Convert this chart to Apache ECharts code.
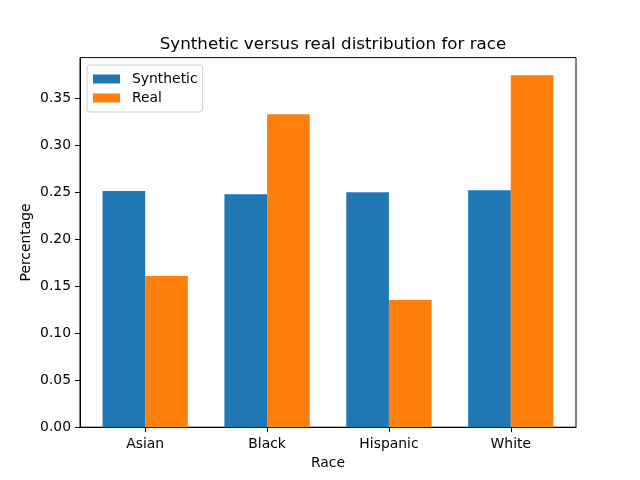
<!DOCTYPE html>
<html>
<head>
<meta charset="utf-8">
<script src="https://cdn.jsdelivr.net/npm/echarts@6/dist/echarts.min.js"></script>
<style>html,body{margin:0;padding:0;background:#fff;}#c{width:640px;height:480px;}</style>
</head>
<body>
<div id="c"></div>
<script>
const categories = ['Asian', 'Black', 'Hispanic', 'White'];
const synthetic = [0.2513, 0.2481, 0.2502, 0.2523];
const real = [0.1609, 0.3332, 0.1353, 0.3747];
const yTicks = [0, 0.05, 0.10, 0.15, 0.20, 0.25, 0.30, 0.35];

const chart = echarts.init(document.getElementById('c'), null, {renderer: 'canvas'});
const font = 'DejaVu Sans';
const barW = 0.35;
const xMin = -barW - 0.185, xMax = 3 + barW + 0.185;
const pxPerUnit = 496 / (xMax - xMin);

chart.setOption({
  animation: false,
  backgroundColor: '#fff',
  textStyle: {fontFamily: font},
  title: {
    text: 'Synthetic versus real distribution for race',
    left: 328, top: 31, textAlign: 'center',
    textStyle: {fontFamily: font, fontSize: 16.7, fontWeight: 'normal', color: '#000'}
  },
  legend: {
    orient: 'vertical', left: 87, top: 65,
    padding: [7, 5, 7, 6],
    itemWidth: 27, itemHeight: 9, itemGap: 5,
    borderColor: '#cccccc', borderWidth: 1, borderRadius: 3,
    backgroundColor: 'rgba(255,255,255,0.8)',
    textStyle: {fontFamily: font, fontSize: 13.9, color: '#000', padding: [0, 0, 0, 7]},
    data: [{name: 'Synthetic', icon: 'rect'}, {name: 'Real', icon: 'rect'}]
  },
  grid: {
    left: 80, right: 64, top: 57.6, bottom: 52.8,
    show: true, borderColor: '#000', borderWidth: 1, backgroundColor: 'transparent'
  },
  xAxis: {
    type: 'value', min: xMin, max: xMax,
    name: 'Race', nameLocation: 'middle', nameGap: 29, nameMoveOverlap: false,
    nameTextStyle: {fontFamily: font, fontSize: 13.9, color: '#000'},
    axisLine: {show: true, onZero: false, lineStyle: {color: '#000', width: 1}},
    splitLine: {show: false},
    axisTick: {show: true, length: 5, lineStyle: {color: '#000'}, customValues: [0, 1, 2, 3]},
    axisLabel: {
      customValues: [0, 1, 2, 3], margin: 10,
      fontFamily: font, fontSize: 13.9, color: '#000',
      formatter: v => categories[Math.round(v)]
    }
  },
  yAxis: {
    type: 'value', min: 0, max: 0.3747 * 1.05,
    name: 'Percentage', nameLocation: 'middle', nameGap: 47, nameRotate: 90, nameMoveOverlap: false,
    nameTextStyle: {fontFamily: font, fontSize: 13.9, color: '#000'},
    axisLine: {show: true, onZero: false, lineStyle: {color: '#000', width: 1}},
    splitLine: {show: false},
    axisTick: {show: true, length: 5, lineStyle: {color: '#000'}, customValues: yTicks},
    axisLabel: {
      customValues: yTicks, margin: 9,
      fontFamily: font, fontSize: 13.9, color: '#000',
      formatter: v => v.toFixed(2)
    }
  },
  series: [
    {
      name: 'Synthetic', type: 'bar', barWidth: barW * pxPerUnit, barGap: '0%',
      itemStyle: {color: '#1f77b4'},
      data: synthetic.map((v, i) => [i, v])
    },
    {
      name: 'Real', type: 'bar', barWidth: barW * pxPerUnit, barGap: '0%',
      itemStyle: {color: '#ff7f0e'},
      data: real.map((v, i) => [i, v])
    }
  ]
});
</script>
</body>
</html>
